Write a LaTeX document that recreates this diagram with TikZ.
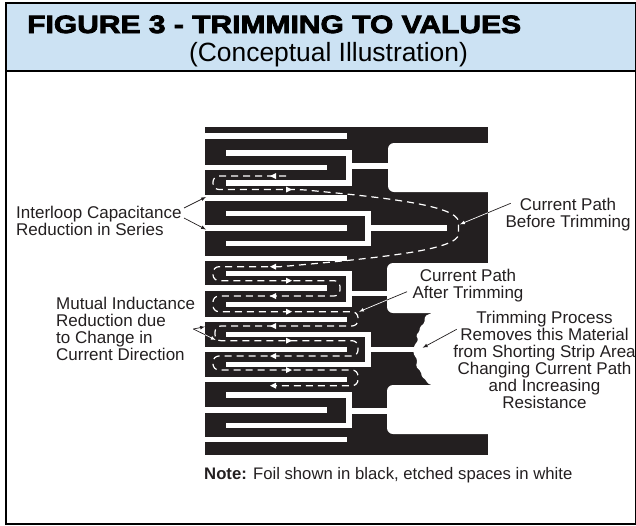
\documentclass[tikz,border=0pt]{standalone}
\usepackage{fontspec}
\setmainfont{Liberation Sans}
\newfontfamily\titlefont[UprightFont=* Bold, FakeBold=3.2, FakeStretch=1.2]{Liberation Sans}
\usetikzlibrary{arrows, positioning}
\definecolor{foilblack}{HTML}{231F20}
\definecolor{headerblue}{HTML}{CCE2F3}

\begin{document}
\begin{tikzpicture}[
    x=1pt, y=-1pt,
    % Styles
    frame/.style={draw=black, line width=1.8pt},
    foil/.style={fill=foilblack},
    slot/.style={draw=white, line width=5.4pt, miter limit=10},
    etched/.style={fill=white},
    current/.style={draw=white, line width=1.2pt, dash pattern=on 7pt off 5pt, rounded corners=6pt},
    leader/.style={->, >=latex, line width=0.7pt, draw=foilblack},
    leader_white/.style={->, >=latex, line width=0.7pt, draw=white},
    label_text/.style={font=\fontsize{17}{17}\selectfont, align=center, text=foilblack, inner sep=0pt}
]
    \useasboundingbox (0,0) rectangle (636,525);

    % --- HEADER AND FRAME ---
    \fill[headerblue] (6,3) rectangle (636,71);
    \draw[frame] (6,3) rectangle (636,524);
    \draw[frame] (6,71) -- (636,71);
    \node[anchor=base west, inner sep=0pt, font=\titlefont\fontsize{25}{25}\selectfont] (title) at (27,33) {FIGURE 3 - TRIMMING TO VALUES};
    \node[anchor=base, inner sep=0pt, font=\fontsize{26.4}{26.4}\selectfont] (subtitle) at (328.5,61) {(Conceptual Illustration)};

    % --- FOIL ---
    \fill[foil] (205,127) rectangle (488,455);

    % Notches on the right
    \fill[etched, rounded corners=6pt] (388,143) rectangle (510,192);
    \fill[etched, rounded corners=6pt] (387,263) rectangle (510,313);
    \fill[etched, rounded corners=6pt] (387,385) rectangle (510,434);
    \fill[white] (488,127) rectangle (500,455);

    % Trimmed edge
    \fill[etched, rounded corners=1.5pt] (434,312) -- (425,316) -- (424.3,323.3) -- (420,326.7) -- (419.3,331.7)
        -- (416,335) -- (418.3,340) -- (414,346) -- (413.3,353.3) -- (417.3,360) -- (416,366.7)
        -- (421,371.7) -- (421.7,376.7) -- (426,380) -- (427.3,383.3) -- (434,386) -- (495,386) -- (495,312) -- cycle;

    % Open slots from the left edge
    \foreach \y in {136, 198, 258.4, 319.2, 379.4, 439.5}
        \draw[slot] (205,\y) -- (347,\y);

    % Loops: top arm / bottom arm / spine / finger / finger end / stub / stub end
    \foreach \armtop/\armbot/\spine/\fing/\fingend/\stub/\stubend in {
        153/183/349/167.5/327/166/388,
        213.2/243.3/368/228/347/228/447,
        273.2/304.2/349/288/327/293.5/388,
        334.2/364.2/368/349.2/347/349.5/416,
        394.8/425.2/349/409.8/327/411/388}
    {
        \draw[slot] (226,\armtop) -- (\spine,\armtop) -- (\spine,\armbot) -- (226,\armbot);
        \draw[slot] (205,\fing) -- (\fingend,\fing);
        \draw[slot] (\spine,\stub) -- (\stubend,\stub);
    }

    % --- CURRENT PATHS ---
    % Before trimming
    \draw[current] (286,176) -- (213,176) -- (213,189.5) -- (300,189.5)
        .. controls (380,197) and (458,205) .. (458.7,228)
        .. controls (458,250) and (380,258) .. (280,266.7);
    % After trimming
    \draw[current] (280,266.7) -- (213,266.7) -- (213,280.7) -- (340,280.7) -- (340,296) -- (213,296)
        -- (213,311.7) -- (358,311.7) -- (358,326) -- (215,326) -- (215,340.7) -- (358,340.7)
        -- (358,356) -- (213,356) -- (213,370) -- (358,370) -- (358,385.7) -- (272,385.7);

    % Direction marks
    \foreach \y in {189.5, 280.7, 311.7, 340.7, 370}
        \fill[white] (286,\y-3) -- (292,\y) -- (286,\y+3) -- cycle;
    \foreach \y in {176, 266.7, 296, 326, 356, 385.7}
        \fill[white] (276,\y-3) -- (270,\y) -- (276,\y+3) -- cycle;

    % --- LABELS ---
    \node[label_text, align=left, anchor=west] (interloop) at (16,221) {Interloop Capacitance\\Reduction in Series};
    \node[label_text, align=left, anchor=west] (mutual) at (56,329) {Mutual Inductance\\Reduction due\\to Change in\\Current Direction};
    \node[label_text] (before) at (568,215) {Current Path\\Before Trimming};
    \node[label_text] (after) at (468,286) {Current Path\\After Trimming};
    \node[label_text] (process) at (544.5,360) {Trimming Process\\Removes this Material\\from Shorting Strip Area\\Changing Current Path\\and Increasing\\Resistance};
    \node[anchor=base west, inner sep=0pt, text=foilblack, font=\fontsize{16.7}{16.7}\selectfont] (note) at (204,479) {\textbf{Note:} Foil shown in black, etched spaces in white};

    % --- LEADERS ---
    \coordinate (interloop_a) at (184,208);
    \coordinate (interloop_b) at (184,218);
    \coordinate (mutual_tail) at (193.3,329);
    \coordinate (mutual_edge) at (205,334.7);
    \coordinate (before_tail) at (510.7,203.3);
    \coordinate (before_edge) at (488,212.7);
    \coordinate (after_tail) at (407,291.7);
    \coordinate (after_edge) at (387,300);
    \coordinate (process_tail) at (456.7,329.3);

    \coordinate (tip_slot_a) at (206,197);
    \coordinate (tip_slot_b) at (206,229.5);
    \coordinate (tip_mutual_a) at (205,326.7);
    \coordinate (tip_mutual_b) at (215.7,340);
    \coordinate (tip_before) at (460,224.3);
    \coordinate (tip_after) at (359,311.7);
    \coordinate (tip_process) at (422.7,347.7);

    \draw[leader] (interloop_a) -- (tip_slot_a);
    \draw[leader] (interloop_b) -- (tip_slot_b);
    \draw[leader] (mutual_tail) -- (tip_mutual_a);
    \draw[draw=foilblack, line width=0.7pt] (mutual_tail) -- (mutual_edge);
    \draw[leader_white] (mutual_edge) -- (tip_mutual_b);
    \draw[draw=foilblack, line width=0.7pt] (before_tail) -- (before_edge);
    \draw[leader_white] (before_edge) -- (tip_before);
    \draw[draw=foilblack, line width=0.7pt] (after_tail) -- (after_edge);
    \draw[leader_white] (after_edge) -- (tip_after);
    \draw[leader] (process_tail) -- (tip_process);

\end{tikzpicture}
\end{document}
